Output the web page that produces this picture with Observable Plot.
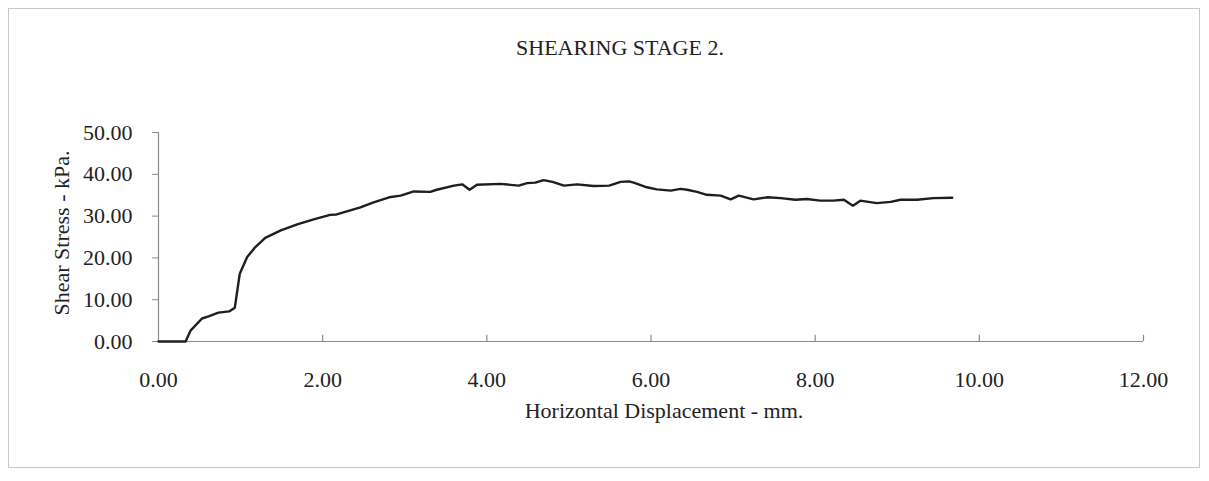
<!DOCTYPE html>
<html>
<head>
<meta charset="utf-8">
<script src="https://cdn.jsdelivr.net/npm/d3@7"></script>
<script src="https://cdn.jsdelivr.net/npm/@observablehq/plot@0.6"></script>
<style>
  html, body { margin: 0; padding: 0; background: #fff; }
  #wrap { position: relative; width: 1209px; height: 481px; overflow: hidden; }
  #frame { position: absolute; left: 8px; top: 8px; width: 1192px; height: 460px; border: 1px solid #c8c8c8; box-sizing: border-box; }
  #title { position: absolute; left: 0; width: 1240px; top: 35px; text-align: center; font-family: "Liberation Serif", "Times New Roman", serif; font-size: 22px; color: #222; }
  #chart { position: absolute; left: 0; top: 0; }
</style>
</head>
<body>
<div id="wrap">
  <div id="frame"></div>
  <div id="chart"></div>
  <div id="title">SHEARING STAGE 2.</div>
</div>
<script>
const displacement = [0.00,0.33,0.39,0.53,0.61,0.73,0.86,0.93,0.99,1.08,1.18,1.30,1.49,1.69,1.89,2.09,2.17,2.46,2.62,2.81,2.95,3.11,3.31,3.39,3.60,3.70,3.79,3.88,4.17,4.39,4.49,4.59,4.69,4.80,4.94,5.10,5.30,5.49,5.63,5.73,5.79,5.95,6.07,6.24,6.36,6.44,6.56,6.68,6.85,6.97,7.07,7.25,7.42,7.58,7.76,7.90,8.06,8.22,8.35,8.46,8.55,8.75,8.92,9.04,9.24,9.44,9.67];
const shearStress = [0.0,0.0,2.6,5.5,6.0,6.9,7.2,8.1,16.2,20.2,22.6,24.8,26.6,28.0,29.2,30.3,30.4,32.1,33.3,34.5,34.9,35.9,35.8,36.3,37.3,37.6,36.3,37.5,37.7,37.3,37.9,38.0,38.6,38.2,37.3,37.6,37.2,37.3,38.2,38.3,38.0,36.9,36.4,36.1,36.5,36.3,35.8,35.1,34.9,34.0,34.9,34.0,34.5,34.3,33.9,34.1,33.7,33.7,33.9,32.5,33.7,33.1,33.4,33.9,33.9,34.3,34.4];
const xTicks = [0, 2, 4, 6, 8, 10, 12];
const yTicks = [0, 10, 20, 30, 40, 50];
const xLabel = "Horizontal Displacement - mm.";
const yLabel = "Shear Stress - kPa.";

const data = displacement.map((d, i) => ({x: d, y: shearStress[i]}));
const font = "Liberation Serif, Times New Roman, serif";

const chart = Plot.plot({
  width: 1209,
  height: 481,
  marginLeft: 158,
  marginRight: 66,
  marginTop: 132,
  marginBottom: 140,
  style: {fontFamily: font, fontSize: "22px", color: "#222", background: "transparent"},
  x: {domain: [0, 12]},
  y: {domain: [0, 50]},
  marks: [
    Plot.ruleY([0], {stroke: "#8a8a8a", strokeWidth: 1.2}),
    Plot.ruleX([0], {stroke: "#8a8a8a", strokeWidth: 1.2}),
    Plot.ruleX(xTicks.slice(1), {y1: 0, y2: 1.5, stroke: "#8a8a8a", strokeWidth: 1.2}),
    Plot.axisY({ticks: yTicks, tickFormat: d => d.toFixed(2), tickSize: 6, tickPadding: 20, stroke: "#8a8a8a", label: null, fontSize: 22}),
    Plot.axisX({ticks: xTicks, tickFormat: d => d.toFixed(2), tickSize: 0, tickPadding: 30, label: null, fontSize: 22}),
    Plot.text([xLabel], {frameAnchor: "bottom", dx: 13, dy: 76, fontSize: 22, fill: "#222"}),
    Plot.text([yLabel], {frameAnchor: "left", textAnchor: "middle", rotate: -90, dx: -97, dy: -4, fontSize: 22, fill: "#222"}),
    Plot.line(data, {x: "x", y: "y", stroke: "#1e1e1e", strokeWidth: 2.4, strokeLinejoin: "round"})
  ]
});
document.getElementById("chart").appendChild(chart);
</script>
</body>
</html>
